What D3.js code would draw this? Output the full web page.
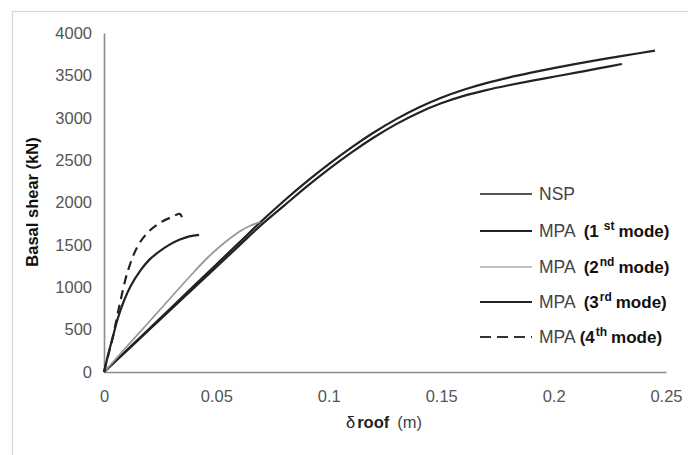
<!DOCTYPE html>
<html><head><meta charset="utf-8">
<script src="https://cdn.jsdelivr.net/npm/d3@7"></script>
<style>body{margin:0;background:#fff}svg{display:block}</style>
</head><body>
<svg id="c" width="688" height="455"></svg>
<script>
// Data: [roof displacement (m), basal shear (kN)]
const nsp = [[0,0],[0.02,508],[0.04,1016],[0.06,1524],[0.07,1778],[0.08,2018],[0.09,2243],[0.1,2453],[0.11,2648],[0.12,2826],[0.13,2984],[0.14,3121],[0.15,3236],[0.16,3330],[0.17,3408],[0.18,3474],[0.19,3532],[0.2,3585],[0.21,3635],[0.22,3682],[0.23,3727],[0.2451,3792]];
const mpa1 = [[0,0],[0.02,496],[0.04,992],[0.06,1488],[0.07,1736],[0.08,1960],[0.09,2184],[0.1,2394],[0.11,2589],[0.12,2767],[0.13,2925],[0.14,3060],[0.15,3170],[0.16,3258],[0.17,3326],[0.18,3383],[0.19,3435],[0.2,3484],[0.21,3532],[0.22,3582],[0.2304,3634]];
const mpa2 = [[0,0],[0.02,590],[0.04,1180],[0.0465,1360],[0.0529,1510],[0.0605,1660],[0.065,1725],[0.0694,1770]];
const mpa3 = [[0,0],[0.002,220],[0.004,420],[0.006,620],[0.0085,814],[0.012,1020],[0.016,1190],[0.02,1320],[0.0245,1420],[0.029,1500],[0.0335,1560],[0.038,1600],[0.0423,1617]];
const mpa4 = [[0,0],[0.002,210],[0.004,420],[0.007,800],[0.0107,1200],[0.0151,1490],[0.02,1660],[0.0255,1770],[0.0302,1829],[0.0338,1864],[0.0351,1775]];
const xTicks = [0,0.05,0.1,0.15,0.2,0.25];
const yTicks = [0,500,1000,1500,2000,2500,3000,3500,4000];
const legendLabels = ["NSP","MPA","MPA","MPA","MPA"];
const legendModes = [null,["1","st"],["2","nd"],["3","rd"],["4","th"]];

const svg = d3.select("#c");
const x = d3.scaleLinear().domain([0,0.25]).range([104,666]);
const y = d3.scaleLinear().domain([0,4000]).range([372,33]);
const FONT = "'Liberation Sans', Arial, sans-serif";

// outer border
svg.append("rect").attr("x",12.5).attr("y",11.5).attr("width",700).attr("height",460)
  .attr("fill","none").attr("stroke","#d9d9d9").attr("stroke-width",1.3);

// axes
const xa = svg.append("g").attr("transform","translate(0,372)")
  .call(d3.axisBottom(x).tickValues(xTicks).tickSize(0).tickPadding(18).tickFormat(d=>d3.format("~g")(d)));
const ya = svg.append("g").attr("transform","translate(104,0)")
  .call(d3.axisLeft(y).tickValues(yTicks).tickSize(0).tickPadding(12).tickFormat(d3.format("d")));
[xa,ya].forEach(g=>{
  g.select(".domain").attr("stroke","#8c8c8c").attr("stroke-width",1.6);
  g.selectAll("text").attr("font-family",FONT).attr("font-size",16.5).attr("fill","#555");
});

// axis titles
svg.append("text").attr("transform","translate(38,202) rotate(-90)").attr("text-anchor","middle")
  .attr("font-family",FONT).attr("font-weight","bold").attr("font-size",16.5).attr("fill","#111")
  .text("Basal shear (kN)");
const xt = svg.append("text").attr("x",384).attr("y",428).attr("text-anchor","middle")
  .attr("font-family",FONT).attr("font-size",16.5).attr("fill","#222");
xt.append("tspan").text("δ");
xt.append("tspan").attr("font-weight","bold").attr("dx",2).text("roof");
xt.append("tspan").attr("dx",8).attr("fill","#444").text("(m)");

// curves
const line = d3.line().x(d=>x(d[0])).y(d=>y(d[1])).curve(d3.curveCatmullRom.alpha(0.5));
const styles = [
  {data:nsp, stroke:"#222", w:2.2, dash:null},
  {data:mpa1, stroke:"#222", w:2.2, dash:null},
  {data:mpa2, stroke:"#999", w:1.8, dash:null},
  {data:mpa3, stroke:"#222", w:2.2, dash:null},
  {data:mpa4, stroke:"#222", w:2.2, dash:"9,6"}
];
styles.forEach(s=>{
  svg.append("path").datum(s.data).attr("d", line)
    .attr("fill","none").attr("stroke",s.stroke).attr("stroke-width",s.w)
    .attr("stroke-dasharray",s.dash).attr("stroke-linejoin","round");
});

// legend
const legColors = ["#555","#222","#aaa","#222","#333"];
const legY = [194,231,267,302,337];
legendLabels.forEach((lab,i)=>{
  svg.append("line").attr("x1",480).attr("x2",532).attr("y1",legY[i]).attr("y2",legY[i])
    .attr("stroke",legColors[i]).attr("stroke-width",i===2?1.5:2.2)
    .attr("stroke-dasharray", i===4 ? "11,6" : null);
  const t = svg.append("text").attr("x",539).attr("y",legY[i]+6)
    .attr("font-family",FONT).attr("font-size",17.5).attr("fill","#444");
  t.append("tspan").text(lab);
  const m = legendModes[i];
  if(m){
    t.append("tspan").attr("dx",i===4?4:8).attr("font-weight","bold").attr("font-size",17).attr("fill","#111").text("("+m[0]);
    t.append("tspan").attr("dx",i===1?5:1).attr("dy",-7).attr("font-weight","bold").attr("font-size",12).attr("fill","#111").text(m[1]);
    t.append("tspan").attr("dx",4).attr("dy",7).attr("font-weight","bold").attr("font-size",17).attr("fill","#111").text("mode)");
  }
});
</script>
</body></html>
